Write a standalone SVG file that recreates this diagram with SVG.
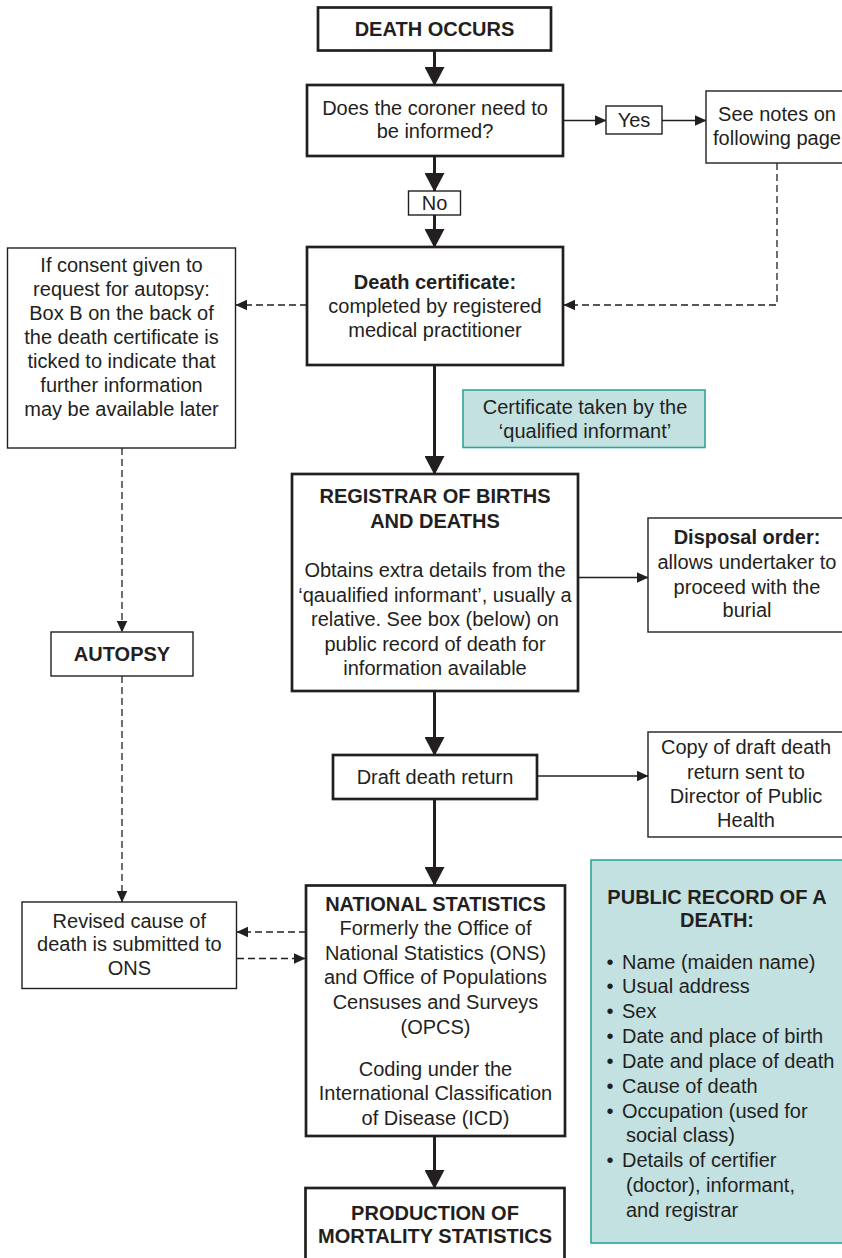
<svg xmlns="http://www.w3.org/2000/svg" width="842" height="1258" viewBox="0 0 842 1258">
<style>
text{font-family:"Liberation Sans",Arial,Helvetica,sans-serif;font-size:20px;fill:#231f20;text-anchor:middle}
.b{font-weight:bold}
.l{text-anchor:start}
.main{fill:#fff;stroke:#231f20;stroke-width:2.7}
.thin{fill:#fff;stroke:#231f20;stroke-width:1.4}
.teal{fill:#c3e1e1;stroke:#2ea59c;stroke-width:1.6}
.ma{stroke:#231f20;stroke-width:3;fill:none}
.ta{stroke:#231f20;stroke-width:1.4;fill:none}
.da{stroke:#231f20;stroke-width:1.3;fill:none;stroke-dasharray:7,4}
</style>
<defs>
<marker id="big" markerUnits="userSpaceOnUse" markerWidth="20" markerHeight="20" viewBox="0 0 18 19" refX="17" refY="9.5" orient="auto"><path d="M0,0L18,9.5L0,19z" fill="#231f20"/></marker>
<marker id="sm" markerUnits="userSpaceOnUse" markerWidth="12" markerHeight="12" viewBox="0 0 11 10" refX="10.5" refY="5" orient="auto"><path d="M0,0L11,5L0,10z" fill="#231f20"/></marker>
</defs>
<g id="connectors">
<path class="ma" d="M434.5,51V85" marker-end="url(#big)"/>
<path class="ma" d="M434.5,156V191" marker-end="url(#big)"/>
<path class="ma" d="M434.5,215V247" marker-end="url(#big)"/>
<path class="ma" d="M434.5,365V474" marker-end="url(#big)"/>
<path class="ma" d="M434.5,691V755" marker-end="url(#big)"/>
<path class="ma" d="M434.5,799V885" marker-end="url(#big)"/>
<path class="ma" d="M434.5,1136V1188" marker-end="url(#big)"/>
<path class="ta" d="M563,120.5H606" marker-end="url(#sm)"/>
<path class="ta" d="M662,120.5H706" marker-end="url(#sm)"/>
<path class="ta" d="M578,577.5H648" marker-end="url(#sm)"/>
<path class="ta" d="M537,776H648" marker-end="url(#sm)"/>
<path class="da" d="M777,163V305H564" marker-end="url(#sm)"/>
<path class="da" d="M307,305H236" marker-end="url(#sm)"/>
<path class="da" d="M122,448V632" marker-end="url(#sm)"/>
<path class="da" d="M122,676V902" marker-end="url(#sm)"/>
<path class="da" d="M306,932H237" marker-end="url(#sm)"/>
<path class="da" d="M237,958.5H305" marker-end="url(#sm)"/>
</g>
<g id="death-occurs">
<rect class="main" x="318" y="7.5" width="233" height="43"/>
<text class="b" x="434.5" y="36">DEATH OCCURS</text>
</g>
<g id="coroner">
<rect class="main" x="307" y="85" width="256" height="71"/>
<text x="435" y="115">Does the coroner need to</text>
<text x="435" y="138">be informed?</text>
</g>
<g id="yes">
<rect class="thin" x="606" y="106" width="56" height="28"/>
<text x="634" y="127">Yes</text>
</g>
<g id="see-notes">
<rect class="thin" x="706" y="91" width="144" height="72"/>
<text x="777" y="120.5">See notes on</text>
<text x="777" y="145">following page</text>
</g>
<g id="no">
<rect class="thin" x="408.5" y="191" width="52" height="24"/>
<text x="434.5" y="210">No</text>
</g>
<g id="death-certificate">
<rect class="main" x="307" y="247" width="256" height="118"/>
<text class="b" x="435" y="289">Death certificate:</text>
<text x="435" y="313">completed by registered</text>
<text x="435" y="337">medical practitioner</text>
</g>
<g id="consent">
<rect class="thin" x="7.5" y="248" width="228" height="200"/>
<text x="121.5" y="272">If consent given to</text>
<text x="121.5" y="296">request for autopsy:</text>
<text x="121.5" y="320">Box B on the back of</text>
<text x="121.5" y="344">the death certificate is</text>
<text x="121.5" y="368">ticked to indicate that</text>
<text x="121.5" y="392">further information</text>
<text x="121.5" y="416">may be available later</text>
</g>
<g id="certificate-taken">
<rect class="teal" x="463" y="390" width="242" height="57.5"/>
<text x="585" y="414">Certificate taken by the</text>
<text x="585" y="438">‘qualified informant’</text>
</g>
<g id="registrar">
<rect class="main" x="292" y="474" width="286" height="217"/>
<text class="b" x="435" y="503">REGISTRAR OF BIRTHS</text>
<text class="b" x="435" y="527.5">AND DEATHS</text>
<text x="435" y="577">Obtains extra details from the</text>
<text x="435" y="601.5">‘qaualified informant’, usually a</text>
<text x="435" y="626">relative. See box (below) on</text>
<text x="435" y="650.5">public record of death for</text>
<text x="435" y="675">information available</text>
</g>
<g id="disposal">
<rect class="thin" x="648" y="518" width="198" height="114"/>
<text class="b" x="747" y="544">Disposal order:</text>
<text x="747" y="569">allows undertaker to</text>
<text x="747" y="593.5">proceed with the</text>
<text x="747" y="617">burial</text>
</g>
<g id="autopsy">
<rect class="thin" x="51" y="632" width="142" height="44"/>
<text class="b" x="122" y="661">AUTOPSY</text>
</g>
<g id="draft">
<rect class="main" x="333" y="755" width="204" height="44"/>
<text x="435" y="784">Draft death return</text>
</g>
<g id="copy">
<rect class="thin" x="648" y="732" width="198" height="105"/>
<text x="746" y="754">Copy of draft death</text>
<text x="746" y="778.5">return sent to</text>
<text x="746" y="802.5">Director of Public</text>
<text x="746" y="827">Health</text>
</g>
<g id="revised">
<rect class="thin" x="22" y="902" width="214.5" height="86.5"/>
<text x="129.3" y="927.7">Revised cause of</text>
<text x="129.3" y="951">death is submitted to</text>
<text x="129.3" y="975.3">ONS</text>
</g>
<g id="national-statistics">
<rect class="main" x="306" y="885.5" width="259" height="250.5"/>
<text class="b" x="435.5" y="911">NATIONAL STATISTICS</text>
<text x="435.5" y="935.3">Formerly the Office of</text>
<text x="435.5" y="960.3">National Statistics (ONS)</text>
<text x="435.5" y="984.3">and Office of Populations</text>
<text x="435.5" y="1009.3">Censuses and Surveys</text>
<text x="435.5" y="1033.7">(OPCS)</text>
<text x="435.5" y="1076.3">Coding under the</text>
<text x="435.5" y="1100.3">International Classification</text>
<text x="435.5" y="1125.3">of Disease (ICD)</text>
</g>
<g id="production">
<rect class="main" x="305.5" y="1188" width="259" height="80"/>
<text class="b" x="435" y="1220.3">PRODUCTION OF</text>
<text class="b" x="435" y="1243">MORTALITY STATISTICS</text>
</g>
<g id="public-record">
<rect class="teal" x="591" y="860" width="260" height="383"/>
<text class="b" x="717" y="903.7">PUBLIC RECORD OF A</text>
<text class="b" x="717" y="927">DEATH:</text>
<text x="610" y="968.5">•</text><text class="l" x="622" y="968.5">Name (maiden name)</text>
<text x="610" y="993.3">•</text><text class="l" x="622" y="993.3">Usual address</text>
<text x="610" y="1018.2">•</text><text class="l" x="622" y="1018.2">Sex</text>
<text x="610" y="1043">•</text><text class="l" x="622" y="1043">Date and place of birth</text>
<text x="610" y="1067.8">•</text><text class="l" x="622" y="1067.8">Date and place of death</text>
<text x="610" y="1092.7">•</text><text class="l" x="622" y="1092.7">Cause of death</text>
<text x="610" y="1117.5">•</text><text class="l" x="622" y="1117.5">Occupation (used for</text>
<text class="l" x="626" y="1142.3">social class)</text>
<text x="610" y="1167.1">•</text><text class="l" x="622" y="1167.1">Details of certifier</text>
<text class="l" x="626" y="1192">(doctor), informant,</text>
<text class="l" x="626" y="1216.8">and registrar</text>
</g>
</svg>
